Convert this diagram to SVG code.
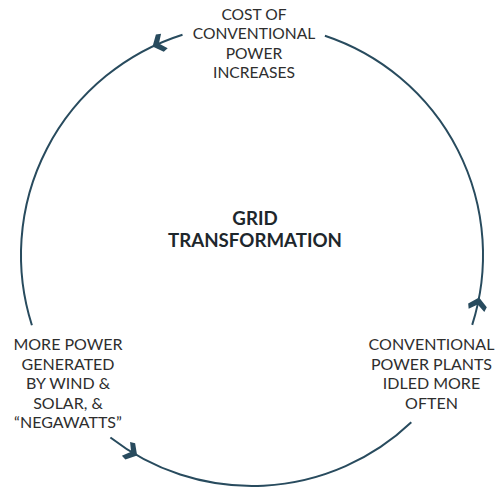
<svg xmlns="http://www.w3.org/2000/svg" width="500" height="488" viewBox="0 0 500 488">
<style>
.arc{fill:none;stroke:#284b5e;stroke-width:2;}
.lbl{font-family:Lato,"Liberation Sans",sans-serif;font-size:16px;fill:#2e2e2e;text-anchor:middle;}
.top{font-size:15.6px;}
.ttl{font-family:Lato,"Liberation Sans",sans-serif;font-size:18.7px;font-weight:bold;fill:#1e272c;text-anchor:middle;}
.chev{fill:#284b5e;}
</style>
<defs>
<path id="chev" class="chev" d="M4,0 L-4,-9.5 L-9,-8 L-3,0 L-9,8 L-4,9.5 Z"/>
</defs>
<g id="connectors">
<path class="arc" d="M182.5,34.7 A231,231 0 0 0 31.9,325.2"/>
<path class="arc" d="M110.4,437.5 A231,231 0 0 0 411.3,422.3"/>
<path class="arc" d="M472.2,324.9 A231,231 0 0 0 324.9,35.8"/>
<use href="#chev" transform="translate(156.2,44.8) rotate(155.5)"/>
<use href="#chev" transform="translate(133.7,453.4) rotate(30.8)"/>
<use href="#chev" transform="translate(478.3,301.5) rotate(-78.4)"/>
</g>
<g id="node-top">
<text class="lbl top"><tspan x="254" y="20">COST OF</tspan><tspan x="254" y="39">CONVENTIONAL</tspan><tspan x="254" y="58.5">POWER</tspan><tspan x="254" y="78">INCREASES</tspan></text>
</g>
<g id="node-left">
<text class="lbl"><tspan x="68" y="350">MORE POWER</tspan><tspan x="68" y="369.5">GENERATED</tspan><tspan x="68" y="389">BY WIND &amp;</tspan><tspan x="68" y="408.5">SOLAR, &amp;</tspan><tspan x="68" y="428">“NEGAWATTS”</tspan></text>
</g>
<g id="node-right">
<text class="lbl"><tspan x="431.5" y="350">CONVENTIONAL</tspan><tspan x="431.5" y="369.5">POWER PLANTS</tspan><tspan x="431.5" y="389">IDLED MORE</tspan><tspan x="431.5" y="408.5">OFTEN</tspan></text>
</g>
<g id="node-center">
<text class="ttl"><tspan x="255" y="225">GRID</tspan><tspan x="255" y="246.5">TRANSFORMATION</tspan></text>
</g>
</svg>
